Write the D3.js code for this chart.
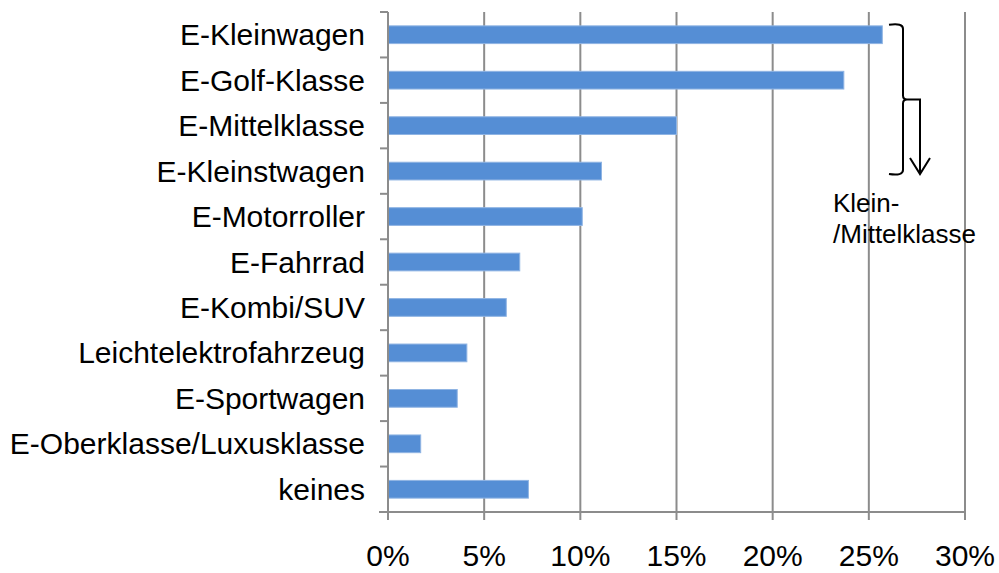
<!DOCTYPE html>
<html>
<head>
<meta charset="utf-8">
<script src="https://cdn.jsdelivr.net/npm/d3@7"></script>
<style>
  body { margin: 0; background: #fff; }
  text { font-family: "Liberation Sans", Arial, sans-serif; fill: #000; }
</style>
</head>
<body>
<script>
const categories = ['E-Kleinwagen', 'E-Golf-Klasse', 'E-Mittelklasse', 'E-Kleinstwagen', 'E-Motorroller',
  'E-Fahrrad', 'E-Kombi/SUV', 'Leichtelektrofahrzeug', 'E-Sportwagen', 'E-Oberklasse/Luxusklasse', 'keines'];
const values = [25.7, 23.7, 15.0, 11.1, 10.1, 6.85, 6.15, 4.1, 3.6, 1.7, 7.3];
const xTicks = [0, 5, 10, 15, 20, 25, 30];
const noteLines = ['Klein-', '/Mittelklasse'];

const width = 999, height = 573;
const margin = { top: 12, right: 34, bottom: 61, left: 388 };

const svg = d3.select('body').append('svg')
  .attr('width', width)
  .attr('height', height);

const x = d3.scaleLinear().domain([0, 30]).range([margin.left, width - margin.right]);
const y = d3.scaleBand().domain(categories).range([margin.top, height - margin.bottom]).paddingInner(0.61).paddingOuter(0.305);
const yb = d3.scaleBand().domain(categories).range([margin.top, height - margin.bottom]);

// gridlines
svg.append('g')
  .selectAll('line')
  .data(xTicks.slice(1))
  .join('line')
  .attr('x1', d => x(d)).attr('x2', d => x(d))
  .attr('y1', margin.top).attr('y2', height - margin.bottom)
  .style('stroke', '#8c8c8c')
  .style('stroke-width', '2px');

// bars
svg.append('g')
  .selectAll('rect')
  .data(values)
  .join('rect')
  .attr('x', x(0))
  .attr('y', (d, i) => y(categories[i]))
  .attr('width', d => x(d) - x(0))
  .attr('height', y.bandwidth())
  .style('fill', '#558ed5')
  .style('stroke', '#8fb4e3')
  .style('stroke-width', '1px');

// y axis
const yAxis = svg.append('g').attr('transform', `translate(${x(0)},0)`);
yAxis.append('line')
  .attr('x1', 0).attr('x2', 0)
  .attr('y1', margin.top).attr('y2', height - margin.bottom)
  .style('stroke', '#8c8c8c').style('stroke-width', '2px');
yAxis.selectAll('.ytick')
  .data(categories)
  .join('line')
  .attr('class', 'ytick')
  .attr('x1', -8).attr('x2', 0)
  .attr('y1', d => yb(d)).attr('y2', d => yb(d))
  .style('stroke', '#8c8c8c').style('stroke-width', '2px');
yAxis.selectAll('text')
  .data(categories)
  .join('text')
  .attr('x', -23)
  .attr('y', d => yb(d) + yb.bandwidth() / 2)
  .attr('dy', '0.35em')
  .attr('text-anchor', 'end')
  .style('font-size', '30px')
  .text(d => d);

// x axis
const xAxis = svg.append('g').attr('transform', `translate(0,${height - margin.bottom})`);
xAxis.append('line')
  .attr('x1', x(0) - 9).attr('x2', x(30))
  .style('stroke', '#8c8c8c').style('stroke-width', '2px');
xAxis.selectAll('.xtick')
  .data(xTicks)
  .join('line')
  .attr('class', 'xtick')
  .attr('x1', d => x(d)).attr('x2', d => x(d))
  .attr('y1', 0).attr('y2', 8)
  .style('stroke', '#8c8c8c').style('stroke-width', '2px');
xAxis.selectAll('text')
  .data(xTicks)
  .join('text')
  .attr('x', d => x(d))
  .attr('y', 54)
  .attr('text-anchor', 'middle')
  .style('font-size', '30px')
  .text(d => d + '%');

// brace + arrow annotation
const bx = x(30) - 62;
const yTop = yb(categories[0]) + yb.bandwidth() / 2 - 10;
const yBot = yb(categories[3]) + yb.bandwidth() / 2 + 3;
const yMid = (yTop + yBot) / 2;
const ann = svg.append('g').style('fill', 'none').style('stroke', '#000').style('stroke-width', '2px');
ann.append('path')
  .attr('d', `M${bx - 14},${yTop} Q${bx},${yTop - 2} ${bx},${yTop + 4} L${bx},${yMid - 4} Q${bx},${yMid} ${bx + 4},${yMid}` +
    ` Q${bx},${yMid} ${bx},${yMid + 4} L${bx},${yBot - 4} Q${bx},${yBot + 2} ${bx - 14},${yBot}`);
ann.append('path')
  .attr('d', `M${bx + 4},${yMid} L${bx + 17},${yMid} L${bx + 17},${yBot}`);
ann.append('path')
  .attr('d', `M${bx + 7},${yBot - 16} L${bx + 17},${yBot} L${bx + 27},${yBot - 16}`);

svg.append('g')
  .selectAll('text')
  .data(noteLines)
  .join('text')
  .attr('x', 833)
  .attr('y', (d, i) => 212 + i * 31)
  .style('font-size', '26px')
  .text(d => d);
</script>
</body>
</html>
